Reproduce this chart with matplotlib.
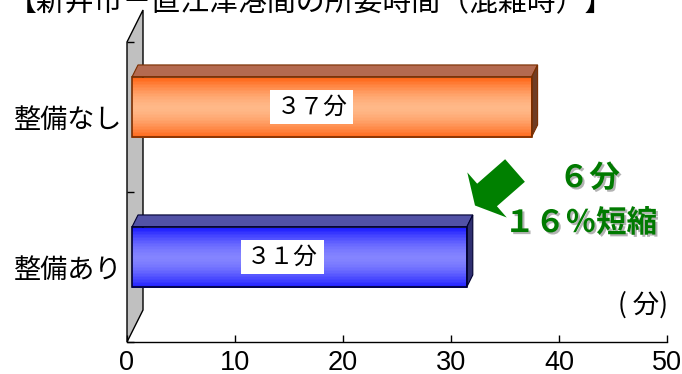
import numpy as np
import matplotlib.pyplot as plt
from matplotlib.patches import Polygon, FancyArrow
from matplotlib.colors import to_rgb
from matplotlib.transforms import Affine2D
import matplotlib.patheffects as pe

plt.rcParams['font.family'] = ['Noto Sans CJK JP', 'DejaVu Sans']

title = "【新井市－直江津港間の所要時間（混雑時）】"
categories = ["整備あり", "整備なし"]
minutes = [31, 37]
bar_labels = ["３１分", "３７分"]
saving_lines = ["６分", "１６％短縮"]
x_ticks = [0, 10, 20, 30, 40, 50]
unit_label = "( 分)"

W, H = 682, 374
fig = plt.figure(figsize=(W / 100, H / 100), dpi=100)
ax = fig.add_axes([127 / W, 32 / H, 540 / W, 300 / H])
ax.set_xlim(0, 50)
ax.set_ylim(0, len(categories))

# size of one pixel in data units, for the fake 3d depth
px = 50 / 540
py = len(categories) / 300

# back wall
wall = Polygon([(0, 0), (0, 2), (16 * px, 2 + 32 * py), (16 * px, 32 * py)],
               closed=True, fc='#c0c0c0', ec='black', lw=1, zorder=1, clip_on=False)
ax.add_patch(wall)

styles = [
    # edge colour of gradient, middle colour, top face, side face, outline
    dict(edge='#1a1aff', mid='#8484ff', top='#5252a6', side='#2e2e70', line='#000030'),
    dict(edge='#ff6414', mid='#ffb888', top='#b46a50', side='#6e3c24', line='#7a2e00'),
]

off = 5 * px
dx, dy = 6 * px, 12 * py
h = 0.4
n = 40
for i, (v, lab, st) in enumerate(zip(minutes, bar_labels, styles)):
    y0 = i + 0.367
    y1 = y0 + h
    # front face with vertical gradient
    t = (np.arange(n) + 0.5) / n
    k = 1 - np.abs(2 * t - 1) ** 1.6
    c0, c1 = np.array(to_rgb(st['edge'])), np.array(to_rgb(st['mid']))
    cols = [tuple(c0 + (c1 - c0) * kk) for kk in k]
    ax.barh(y0 + t * h - h / (2 * n), v, left=off, height=h / n + 0.002,
            color=cols, lw=0, zorder=3)
    ax.barh(y0, v, left=off, height=h, align='edge', fill=False,
            ec=st['line'], lw=1.2, zorder=4)
    top = Polygon([(off, y1), (off + v, y1), (off + v + dx, y1 + dy), (off + dx, y1 + dy)],
                  fc=st['top'], ec=st['line'], lw=0.8, zorder=3)
    side = Polygon([(off + v, y0), (off + v + dx, y0 + dy), (off + v + dx, y1 + dy), (off + v, y1)],
                   fc=st['side'], ec=st['line'], lw=0.8, zorder=3)
    ax.add_patch(top)
    ax.add_patch(side)
    ax.text(off + v * 0.45, (y0 + y1) / 2, lab, ha='center', va='center', fontsize=17,
            bbox=dict(boxstyle='square,pad=0.25', fc='white', ec='none'), zorder=5)

# axes styling
for s in ['top', 'right', 'left']:
    ax.spines[s].set_visible(False)
ax.spines['bottom'].set_linewidth(1)
ax.set_xticks(x_ticks)
ax.tick_params(axis='x', direction='in', length=5, width=1, pad=6,
               labelsize=19.5, labelfontfamily='Liberation Sans')
ax.set_yticks([0.5, 1.5], categories)
ax.set_yticks([0, 1, 2], minor=True)
ax.tick_params(axis='y', which='major', length=0, pad=3.6, labelsize=19.5)
ax.tick_params(axis='y', which='minor', direction='in', length=5, width=1)

ax.text(50.1, 37 * py, unit_label, ha='right', va='center', fontsize=19)

# reduction note with arrow
shadow = [pe.withSimplePatchShadow(offset=(1.5, -1.5), shadow_rgbFace='#a0a0a0', alpha=0.8)]
ax.text(42.8, 1.093, saving_lines[0], ha='center', va='center', fontsize=22,
        fontweight='bold', color='#007a00', path_effects=shadow, zorder=6)
ax.text(42.0, 0.793, saving_lines[1], ha='center', va='center', fontsize=22,
        fontweight='bold', color='#007a00', path_effects=shadow, zorder=6)

pix = Affine2D().scale(1, -1).translate(0, H)
arrow = FancyArrow(515, 170.5, -40, 35, width=30, head_width=60, head_length=16,
                   length_includes_head=True, fc='#008000', ec='none', transform=pix)
fig.add_artist(arrow)

fig.text(311 / W, 1 - 11 / H, title, ha='center', va='baseline', fontsize=20.8)

fig.savefig('out.png', dpi=100)
